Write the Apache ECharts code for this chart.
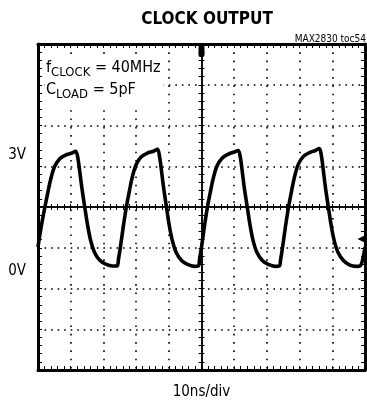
<!DOCTYPE html>
<html>
<head>
<meta charset="utf-8">
<script src="https://cdn.jsdelivr.net/npm/echarts@6/dist/echarts.min.js"></script>
<style>
  html, body { margin: 0; padding: 0; background: #fff; }
  #chart { width: 367px; height: 405px; }
</style>
</head>
<body>
<div id="chart"></div>
<script>
// Scope trace of the clock output: time relative to the trigger (ns), level in volts.
const traceTimeNs = [
  -50.0, -49.4, -48.8, -47.9, -47.0, -46.1, -44.9, -43.4, -41.6, -39.7, -38.5, -37.9, -37.3, -36.6, -35.7, -34.8, -33.9, -32.7, -31.1, -29.3, -27.2, -25.8,
  -25.4, -24.8, -24.0, -23.0, -22.1, -21.2, -20.0, -18.5, -16.6, -14.7, -13.5, -12.9, -12.3, -11.6, -10.7, -9.8, -8.9, -7.7, -6.1, -4.3, -2.2, -1.0,
  -0.6, 0.0, 0.8, 1.8, 2.7, 3.6, 4.8, 6.3, 8.1, 10.0, 11.2, 11.8, 12.4, 13.1, 14.0, 14.9, 15.8, 17.0, 18.6, 20.4, 22.5, 23.8,
  24.2, 24.8, 25.6, 26.6, 27.5, 28.4, 29.6, 31.1, 32.9, 34.8, 36.0, 36.6, 37.2, 37.9, 38.8, 39.7, 40.6, 41.8, 43.4, 45.2, 47.3, 48.6, 49.3, 50.0
];
const traceVolts = [
  0.62, 0.95, 1.25, 1.65, 2.03, 2.38, 2.71, 2.90, 3.00, 3.05, 3.10, 2.97, 2.62, 2.16, 1.65, 1.17, 0.79, 0.48, 0.28, 0.18, 0.13, 0.13,
  0.30, 0.62, 1.10, 1.65, 2.05, 2.42, 2.75, 2.95, 3.05, 3.10, 3.15, 3.00, 2.64, 2.16, 1.65, 1.15, 0.78, 0.47, 0.27, 0.17, 0.12, 0.13,
  0.30, 0.62, 1.10, 1.65, 2.04, 2.40, 2.73, 2.92, 3.02, 3.08, 3.12, 2.98, 2.62, 2.15, 1.65, 1.16, 0.78, 0.47, 0.27, 0.17, 0.12, 0.13,
  0.30, 0.62, 1.10, 1.65, 2.05, 2.42, 2.76, 2.96, 3.06, 3.12, 3.17, 3.02, 2.64, 2.16, 1.65, 1.16, 0.78, 0.47, 0.27, 0.16, 0.12, 0.14, 0.30, 0.62
];

// Level markers printed beside the screen
const levelMarkVolts = [3, 0];
const levelMarkText = ['3V', '0V'];

// Vertical scale of the screen: volts per division and where 0 V sits (in divisions from centre)
const voltsPerDiv = 1.055;
const zeroVoltDiv = -1.57;
const toDiv = v => v / voltsPerDiv + zeroVoltDiv;

// Ground reference arrow on the right edge (volts)
const groundMarkVolts = 0.83;

const FONT = '"DejaVu Sans Condensed", "Liberation Sans Narrow", "Liberation Sans", sans-serif';
const INK = '#000';

const tracePoints = traceTimeNs.map((t, i) => [t, toDiv(traceVolts[i])]);

const borderTicks = (inside) => ({
  show: true, inside: inside, length: 4, lineStyle: { color: INK, width: 1 }
});
const minorTicks = (len) => ({
  show: true, splitNumber: 5, length: len, lineStyle: { color: INK, width: 1 }
});

const chart = echarts.init(document.getElementById('chart'), null, { renderer: 'canvas' });

chart.setOption({
  animation: false,
  backgroundColor: '#fff',
  title: [
    {
      text: 'CLOCK OUTPUT', left: 202, top: 6, textAlign: 'center',
      textStyle: { fontFamily: FONT, fontWeight: 'bold', fontSize: 17, color: INK }
    },
    {
      text: 'MAX2830 toc54', right: -4, top: 29,
      textStyle: { fontFamily: FONT, fontWeight: 'normal', fontSize: 10, color: INK }
    }
  ],
  graphic: [
    {
      type: 'text', left: 45, top: 56, z: 100,
      style: {
        text: '{m|f}{s|CLOCK}{m| = 40MHz}\n{m|C}{s|LOAD}{m| = 5pF}',
        rich: {
          m: { fontFamily: FONT, fontSize: 16, lineHeight: 22, verticalAlign: 'middle', fill: INK },
          s: { fontFamily: FONT, fontSize: 13, lineHeight: 16, verticalAlign: 'bottom', fill: INK }
        },
        backgroundColor: '#fff',
        padding: [1, 3, 5, 1]
      }
    }
  ],
  grid: { left: 38, right: 2, top: 44, bottom: 30, show: false },
  xAxis: [
    {
      type: 'value', min: -50, max: 50, interval: 10, position: 'bottom',
      axisLine: { onZero: false, lineStyle: { color: INK, width: 3 } },
      axisTick: borderTicks(true), minorTick: minorTicks(4),
      axisLabel: { show: false },
      splitLine: { show: true, lineStyle: { color: INK, width: 1.6, type: [1.6, 6.68] } },
      name: '10ns/div', nameLocation: 'middle', nameGap: 15,
      nameTextStyle: { fontFamily: FONT, fontSize: 15, color: INK }
    },
    {
      type: 'value', min: -50, max: 50, interval: 10, position: 'top',
      axisLine: { onZero: false, lineStyle: { color: INK, width: 3 } },
      axisTick: borderTicks(true), minorTick: minorTicks(4),
      axisLabel: { show: false }, splitLine: { show: false }
    },
    {
      type: 'value', min: -50, max: 50, interval: 10, position: 'bottom',
      axisLine: { onZero: true, onZeroAxisIndex: 0, lineStyle: { color: INK, width: 1.5 } },
      axisTick: { show: true, inside: true, length: 3, lineStyle: { color: INK, width: 1 } },
      minorTick: minorTicks(3),
      axisLabel: { show: false }, splitLine: { show: false }
    },
    {
      type: 'value', min: -50, max: 50, interval: 10, position: 'bottom',
      axisLine: { onZero: true, onZeroAxisIndex: 0, lineStyle: { color: INK, width: 1.5 } },
      axisTick: { show: true, inside: false, length: 3, lineStyle: { color: INK, width: 1 } },
      minorTick: minorTicks(3),
      axisLabel: { show: false }, splitLine: { show: false }
    }
  ],
  yAxis: [
    {
      type: 'value', min: -4, max: 4, interval: 1, position: 'left',
      axisLine: { onZero: false, lineStyle: { color: INK, width: 3 } },
      axisTick: borderTicks(true), minorTick: minorTicks(4),
      axisLabel: {
        show: true, margin: 12, fontFamily: FONT, fontSize: 15, color: INK,
        customValues: levelMarkVolts.map(toDiv),
        formatter: (val) => {
          const i = levelMarkVolts.map(toDiv).findIndex(d => Math.abs(d - val) < 1e-6);
          return i >= 0 ? levelMarkText[i] : '';
        }
      },
      splitLine: { show: true, lineStyle: { color: INK, width: 1.6, type: [1.6, 4.94] } }
    },
    {
      type: 'value', min: -4, max: 4, interval: 1, position: 'right',
      axisLine: { onZero: false, lineStyle: { color: INK, width: 3 } },
      axisTick: borderTicks(true), minorTick: minorTicks(4),
      axisLabel: { show: false }, splitLine: { show: false }
    },
    {
      type: 'value', min: -4, max: 4, interval: 1, position: 'left',
      axisLine: { onZero: true, onZeroAxisIndex: 0, lineStyle: { color: INK, width: 1.5 } },
      axisTick: { show: true, inside: true, length: 3, lineStyle: { color: INK, width: 1 } },
      minorTick: minorTicks(3),
      axisLabel: { show: false }, splitLine: { show: false }
    },
    {
      type: 'value', min: -4, max: 4, interval: 1, position: 'left',
      axisLine: { onZero: true, onZeroAxisIndex: 0, lineStyle: { color: INK, width: 1.5 } },
      axisTick: { show: true, inside: false, length: 3, lineStyle: { color: INK, width: 1 } },
      minorTick: minorTicks(3),
      axisLabel: { show: false }, splitLine: { show: false }
    }
  ],
  series: [
    {
      type: 'line', xAxisIndex: 0, yAxisIndex: 0,
      data: tracePoints, smooth: 0.35, showSymbol: false, silent: true,
      lineStyle: { color: INK, width: 3.6 },
      markPoint: {
        silent: true, label: { show: false },
        data: [
          { coord: [0, 4], symbol: 'roundRect', symbolSize: [6, 12], symbolOffset: [0, 7], itemStyle: { color: INK } },
          { coord: [50, toDiv(groundMarkVolts)], symbol: 'triangle', symbolRotate: 90, symbolSize: [7, 7], symbolOffset: [-4, 0], itemStyle: { color: INK } }
        ]
      }
    }
  ]
});
</script>
</body>
</html>
